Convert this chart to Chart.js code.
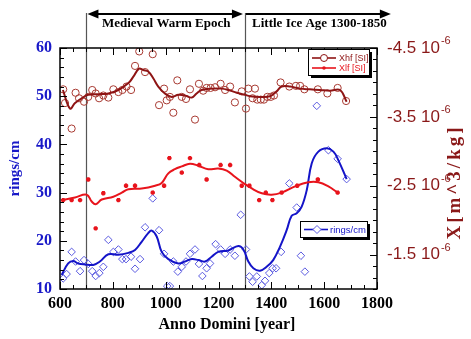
<!DOCTYPE html>
<html>
<head>
<meta charset="utf-8">
<script src="https://cdn.jsdelivr.net/npm/chart.js@4.4.1/dist/chart.umd.min.js"></script>
<style>
  body { margin: 0; background: #fff; }
  #wrap { width: 471px; height: 339px; }
</style>
</head>
<body>
<div id="wrap"><canvas id="myChart" width="471" height="339"></canvas></div>
<script>
// Xhf [SI] single measurements (units of 1e-6 m^3/kg)
var xhfYears = [612,619,644,659,672,691,707,722,735,748,764,783,802,821,836,852,869,884,900,922,951,975,994,1004,1016,1029,1044,1061,1077,1092,1111,1126,1142,1155,1170,1187,1208,1225,1244,1262,1288,1304,1313,1329,1338,1347,1360,1372,1385,1398,1410,1435,1468,1493,1509,1525,1576,1612,1651,1683];
var xhfVals = [-3.90,-3.70,-3.33,-3.85,-3.77,-3.72,-3.79,-3.89,-3.84,-3.77,-3.81,-3.78,-3.90,-3.86,-3.89,-3.94,-3.89,-4.24,-4.45,-4.15,-4.41,-3.67,-3.91,-3.74,-3.79,-3.56,-4.03,-3.79,-3.76,-3.90,-3.46,-3.98,-3.88,-3.92,-3.92,-3.93,-3.98,-3.89,-3.94,-3.71,-3.87,-3.62,-3.91,-3.77,-3.91,-3.75,-3.75,-3.75,-3.79,-3.79,-3.81,-4.00,-3.94,-3.95,-3.95,-3.90,-3.90,-3.84,-3.92,-3.73];
// Xhf smoothed curve
var xhfLineYears = [611,638,657,682,707,745,783,821,859,877,899,915,934,953,972,997,1023,1048,1073,1099,1117,1136,1174,1212,1237,1269,1300,1319,1357,1395,1420,1439,1471,1509,1546,1584,1622,1660,1685];
var xhfLineVals = [-3.89,-3.62,-3.70,-3.77,-3.82,-3.83,-3.84,-3.89,-3.99,-4.08,-4.20,-4.18,-4.16,-4.06,-3.94,-3.84,-3.79,-3.82,-3.81,-3.78,-3.84,-3.89,-3.91,-3.91,-3.89,-3.85,-3.82,-3.80,-3.79,-3.80,-3.87,-3.94,-3.94,-3.91,-3.90,-3.89,-3.88,-3.89,-3.72];

// Xlf [SI]
var xlfYears = [612,644,676,707,735,764,821,850,884,951,994,1014,1061,1092,1127,1155,1208,1244,1288,1317,1354,1379,1404,1439,1498,1576,1651];
var xlfVals = [-2.29,-2.29,-2.29,-2.59,-1.88,-2.39,-2.29,-2.50,-2.50,-2.40,-2.50,-2.90,-2.69,-2.90,-2.80,-2.59,-2.80,-2.80,-2.50,-2.50,-2.29,-2.40,-2.29,-2.40,-2.50,-2.59,-2.40];
var xlfLineYears = [606,657,701,720,735,758,802,834,859,909,960,985,1010,1035,1061,1092,1124,1161,1199,1231,1262,1294,1326,1364,1401,1439,1490,1540,1578,1616,1651];
var xlfLineVals = [-2.29,-2.33,-2.37,-2.27,-2.23,-2.30,-2.34,-2.40,-2.45,-2.46,-2.50,-2.54,-2.68,-2.74,-2.78,-2.82,-2.79,-2.74,-2.75,-2.72,-2.63,-2.54,-2.46,-2.39,-2.37,-2.40,-2.49,-2.55,-2.55,-2.49,-2.40];

// rings/cm
var ringYears = [612,625,644,659,676,691,707,722,735,749,764,783,802,821,836,850,869,884,903,922,951,975,994,1006,1016,1029,1046,1061,1077,1092,1111,1126,1139,1155,1168,1189,1208,1225,1244,1262,1284,1304,1317,1329,1345,1364,1376,1392,1405,1418,1437,1468,1496,1512,1527,1572,1616,1651,1685];
var ringVals = [12.2,13.1,17.7,15.7,13.7,16.0,15.2,13.7,12.7,13.3,14.6,20.2,17.7,18.2,16.2,16.2,16.7,14.2,16.2,22.8,28.8,22.2,17.3,10.6,10.6,15.7,13.6,14.6,15.7,17.3,18.2,15.2,12.7,14.3,15.3,19.3,18.2,17.3,18.2,16.9,25.4,18.2,12.6,11.5,12.6,10.8,11.7,13.3,14.3,14.3,17.7,31.9,26.9,16.9,13.6,48.0,38.8,37.0,32.8];
var ringLineYears = [606,631,650,669,695,726,751,783,821,859,884,909,934,947,966,985,1010,1048,1073,1099,1124,1149,1174,1199,1237,1275,1294,1313,1332,1357,1382,1407,1433,1458,1477,1496,1515,1534,1553,1578,1610,1635,1653,1685];
var ringLineVals = [12.9,15.3,15.8,15.3,15.1,15.0,15.7,17.2,17.1,17.5,18.1,19.8,21.6,22.1,20.9,17.7,16.2,15.3,15.7,16.2,16.0,15.7,16.7,17.7,18.0,18.9,18.2,15.7,14.3,13.8,14.6,16.0,18.8,22.2,25.2,25.7,27.1,30.5,36.1,38.5,39.2,38.5,36.8,32.8];

// axis ticks
var yearTicks = [600,800,1000,1200,1400,1600,1800];
var ringTicks = [10,20,30,40,50,60];
var chiTicks = [-4.5,-3.5,-2.5,-1.5];

// epochs drawn above the plot
var epochs = [
    {from: 700, to: 1300, text: 'Medieval Warm Epoch', both: true},
    {from: 1300, to: 1860, text: 'Little Ice Age 1300-1850', both: false}
];

var colXhf = '#8e1414', colXhfPt = '#a83a32', colXlf = '#e8141c', colRing = '#1414c8', colRingPt = '#5a5ae0';
var colLeft = '#1818c8', colRight = '#8a1818';

function pairs(xs, ys) {
    return xs.map(function(x, i) { return {x: x, y: ys[i]}; });
}

function arrowHead(ctx, x, y, dir) {
    ctx.beginPath();
    ctx.moveTo(x, y);
    ctx.lineTo(x - dir * 11, y - 4.5);
    ctx.lineTo(x - dir * 11, y + 4.5);
    ctx.closePath();
    ctx.fill();
}

function legendBox(ctx, x, y, w, h) {
    ctx.fillStyle = '#000';
    ctx.fillRect(x + 3, y + 3, w, h);
    ctx.fillStyle = '#fff';
    ctx.fillRect(x, y, w, h);
    ctx.strokeStyle = '#000';
    ctx.lineWidth = 1;
    ctx.strokeRect(x + 0.5, y + 0.5, w, h);
}

var decor = {
    id: 'decor',
    beforeDatasetsDraw: function(chart) {
        var ctx = chart.ctx, xs = chart.scales.x, a = chart.chartArea;
        ctx.save();
        ctx.strokeStyle = '#555';
        ctx.lineWidth = 1.2;
        [700, 1300].forEach(function(v) {
            var px = Math.round(xs.getPixelForValue(v)) + 0.5;
            ctx.beginPath();
            ctx.moveTo(px, 13);
            ctx.lineTo(px, a.bottom);
            ctx.stroke();
        });
        ctx.restore();
    },
    afterDraw: function(chart) {
        var ctx = chart.ctx, a = chart.chartArea;
        var xs = chart.scales.x, yl = chart.scales.y, yr = chart.scales.y2;
        ctx.save();

        // frame
        ctx.strokeStyle = '#000';
        ctx.lineWidth = 1.5;
        ctx.strokeRect(a.left, a.top, a.right - a.left, a.bottom - a.top);

        // inward ticks
        ctx.lineWidth = 1;
        ctx.beginPath();
        for (var v = 600; v <= 1800; v += 50) {
            var px = Math.round(xs.getPixelForValue(v)) + 0.5;
            var len = v % 200 == 0 ? 7 : 4;
            ctx.moveTo(px, a.bottom); ctx.lineTo(px, a.bottom - len);
            ctx.moveTo(px, a.top); ctx.lineTo(px, a.top + len);
        }
        for (var r = 10; r <= 60; r += 2) {
            var py = Math.round(yl.getPixelForValue(r)) + 0.5;
            ctx.moveTo(a.left, py); ctx.lineTo(a.left + (r % 10 == 0 ? 7 : 4), py);
        }
        for (var k = 0; k <= 21; k++) {
            var py2 = Math.round(yr.getPixelForValue(-4.5 + k / 6)) + 0.5;
            ctx.moveTo(a.right, py2); ctx.lineTo(a.right - (k % 6 == 0 ? 7 : 4), py2);
        }
        ctx.stroke();

        // right tick labels with exponent
        ctx.fillStyle = colRight;
        ctx.textBaseline = 'middle';
        ctx.textAlign = 'left';
        yr.ticks.forEach(function(t) {
            var py = yr.getPixelForValue(t.value);
            var s = t.value.toFixed(1) + ' 10';
            ctx.font = '17px "Liberation Sans", Arial, sans-serif';
            ctx.fillText(s, a.right + 10, py);
            var w = ctx.measureText(s).width;
            ctx.font = '11px "Liberation Sans", Arial, sans-serif';
            ctx.fillText('-6', a.right + 11 + w, py - 7);
        });

        // right axis title
        ctx.save();
        ctx.translate(455, 182);
        ctx.rotate(-Math.PI / 2);
        ctx.textAlign = 'center';
        ctx.font = 'bold 19px "Liberation Serif", "Times New Roman", serif';
        ctx.letterSpacing = '3px';
        ctx.fillText('X[m^3/kg]', 0, 0);
        ctx.restore();

        // x title
        ctx.fillStyle = '#000';
        ctx.textAlign = 'center';
        ctx.font = 'bold 16px "Liberation Serif", "Times New Roman", serif';
        ctx.fillText('Anno Domini [year]', 227, 325);

        // epoch arrows and captions
        ctx.strokeStyle = '#000';
        ctx.fillStyle = '#000';
        ctx.lineWidth = 2;
        epochs.forEach(function(e) {
            var x1 = xs.getPixelForValue(e.from) + 1, x2 = xs.getPixelForValue(e.to);
            ctx.beginPath();
            ctx.moveTo(x1 + (e.both ? 6 : 0), 14);
            ctx.lineTo(x2 - 6, 14);
            ctx.stroke();
            if (e.both) arrowHead(ctx, x1, 14, -1);
            arrowHead(ctx, x2 - 2, 14, 1);
            ctx.font = 'bold 13px "Liberation Serif", "Times New Roman", serif';
            ctx.textAlign = 'center';
            ctx.fillText(e.text, (x1 + x2) / 2, 24);
        });

        // legend: Xhf / Xlf
        legendBox(ctx, 308, 49, 61, 26);
        ctx.font = '9px "Liberation Sans", Arial, sans-serif';
        ctx.textAlign = 'left';
        ctx.lineWidth = 1.6;
        ctx.strokeStyle = colXhf;
        ctx.beginPath(); ctx.moveTo(312, 58); ctx.lineTo(336, 58); ctx.stroke();
        ctx.fillStyle = '#fff'; ctx.lineWidth = 1;
        ctx.beginPath(); ctx.arc(324, 58, 3.5, 0, Math.PI * 2); ctx.fill(); ctx.stroke();
        ctx.fillStyle = colXhf;
        ctx.fillText('Xhf [SI]', 339, 58.5);
        ctx.strokeStyle = colXlf; ctx.lineWidth = 1.6;
        ctx.beginPath(); ctx.moveTo(312, 68); ctx.lineTo(336, 68); ctx.stroke();
        ctx.fillStyle = colXlf;
        ctx.beginPath(); ctx.arc(324, 68, 1.8, 0, Math.PI * 2); ctx.fill();
        ctx.fillText('Xlf [SI]', 339, 68.5);

        // legend: rings/cm
        legendBox(ctx, 300, 221, 67, 16);
        ctx.strokeStyle = colRing; ctx.lineWidth = 1.6;
        ctx.beginPath(); ctx.moveTo(304, 229.5); ctx.lineTo(328, 229.5); ctx.stroke();
        ctx.fillStyle = '#fff'; ctx.strokeStyle = colRingPt; ctx.lineWidth = 1;
        ctx.beginPath();
        ctx.moveTo(317, 225.5); ctx.lineTo(321, 229.5); ctx.lineTo(317, 233.5); ctx.lineTo(313, 229.5);
        ctx.closePath(); ctx.fill(); ctx.stroke();
        ctx.fillStyle = colRing;
        ctx.font = '9.5px "Liberation Sans", Arial, sans-serif';
        ctx.fillText('rings/cm', 330, 230);

        ctx.restore();
    }
};

var settings = {
    type: 'scatter',
    data: {
        datasets: [{
            label: 'Xhf [SI]',
            data: pairs(xhfLineYears, xhfLineVals),
            yAxisID: 'y2', showLine: true, pointRadius: 0,
            borderColor: colXhf, borderWidth: 2, tension: 0.4
        }, {
            label: 'Xhf points',
            data: pairs(xhfYears, xhfVals),
            yAxisID: 'y2', showLine: false, pointStyle: 'circle', pointRadius: 3.6,
            borderColor: colXhfPt, backgroundColor: 'rgba(0,0,0,0)', pointBorderWidth: 1
        }, {
            label: 'Xlf [SI]',
            data: pairs(xlfLineYears, xlfLineVals),
            yAxisID: 'y2', showLine: true, pointRadius: 0,
            borderColor: colXlf, borderWidth: 2, tension: 0.4
        }, {
            label: 'Xlf points',
            data: pairs(xlfYears, xlfVals),
            yAxisID: 'y2', showLine: false, pointStyle: 'star', pointRadius: 2.2,
            borderColor: colXlf, backgroundColor: colXlf, pointBorderWidth: 1.8
        }, {
            label: 'rings/cm',
            data: pairs(ringLineYears, ringLineVals),
            yAxisID: 'y', showLine: true, pointRadius: 0,
            borderColor: colRing, borderWidth: 2, tension: 0.4
        }, {
            label: 'rings points',
            data: pairs(ringYears, ringVals),
            yAxisID: 'y', showLine: false, pointStyle: 'rectRot', pointRadius: 3.8,
            borderColor: colRingPt, backgroundColor: 'rgba(0,0,0,0)', pointBorderWidth: 1
        }]
    },
    options: {
        responsive: false,
        animation: false,
        layout: {padding: {top: 48, left: 0, right: 0, bottom: 0}},
        plugins: {
            legend: {display: false},
            tooltip: {enabled: false},
            title: {display: false}
        },
        scales: {
            x: {
                type: 'linear', min: 600, max: 1800,
                afterBuildTicks: function(s) { s.ticks = yearTicks.map(function(v) { return {value: v}; }); },
                afterFit: function(s) { s.height = 50; },
                grid: {display: false, drawTicks: false},
                border: {display: false},
                ticks: {
                    color: '#000', padding: 5, maxRotation: 0,
                    callback: function(v) { return String(v); },
                    font: {family: '"Liberation Serif", "Times New Roman", serif', size: 16, weight: 'bold'}
                }
            },
            y: {
                position: 'left', min: 10, max: 60,
                afterBuildTicks: function(s) { s.ticks = ringTicks.map(function(v) { return {value: v}; }); },
                afterFit: function(s) { s.width = 60; },
                grid: {display: false, drawTicks: false},
                border: {display: false},
                ticks: {
                    color: colLeft, padding: 8,
                    font: {family: '"Liberation Serif", "Times New Roman", serif', size: 16, weight: 'bold'}
                },
                title: {
                    display: true, text: 'rings/cm', color: colLeft, padding: {top: 6, bottom: 0},
                    font: {family: '"Liberation Serif", "Times New Roman", serif', size: 15, weight: 'bold'}
                }
            },
            y2: {
                position: 'right', min: -4.5, max: -1.0, reverse: true,
                afterBuildTicks: function(s) { s.ticks = chiTicks.map(function(v) { return {value: v}; }); },
                afterFit: function(s) { s.width = 94; },
                grid: {display: false, drawTicks: false},
                border: {display: false},
                ticks: {display: false}
            }
        }
    },
    plugins: [decor]
};

new Chart('myChart', settings);
</script>
</body>
</html>
